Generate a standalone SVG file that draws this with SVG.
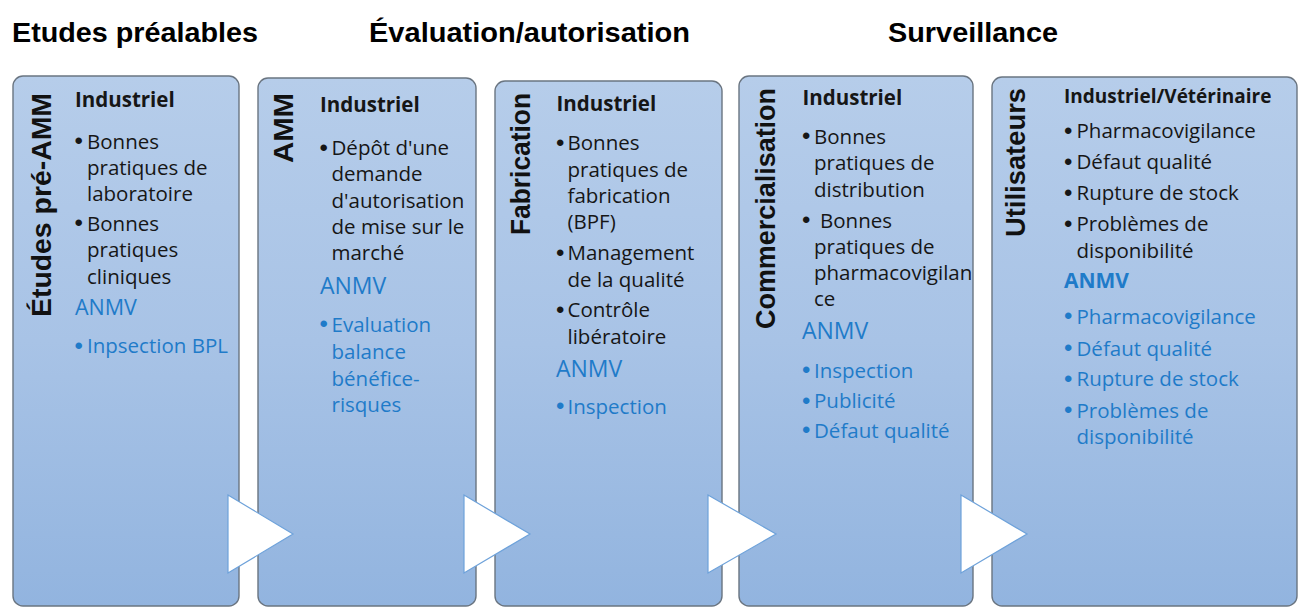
<svg xmlns="http://www.w3.org/2000/svg" width="1301" height="608" viewBox="0 0 1301 608">
<defs>
<linearGradient id="boxfill" x1="0" y1="0" x2="0" y2="1">
<stop offset="0" stop-color="#b6cdea"/>
<stop offset="0.5" stop-color="#a8c3e6"/>
<stop offset="1" stop-color="#92b4df"/>
</linearGradient>
</defs>
<style>
.box{fill:url(#boxfill);stroke:#6a7581;stroke-width:1.4}
.t{font-family:"Open Sans","Noto Sans",sans-serif;font-size:20.5px;fill:#161616}
.b{font-weight:bold}
.blue{fill:#1f7bc9}
.anmv{font-size:23px}
.bu{font-family:"Liberation Sans",Arial,sans-serif;font-size:24px}
.title{font-family:"Liberation Sans",Arial,sans-serif;font-weight:bold;font-size:27px;fill:#111}
.hdr{font-family:"Liberation Sans",Arial,sans-serif;font-weight:bold;font-size:28.5px;fill:#000}
.arrow{fill:#fff;stroke:#6ea2da;stroke-width:1.2}
</style>
<rect width="1301" height="608" fill="#fff"/>
<g id="headers">
<text class="hdr" x="12" y="42" textLength="246" lengthAdjust="spacingAndGlyphs">Etudes préalables</text>
<text class="hdr" x="369" y="42" textLength="321" lengthAdjust="spacingAndGlyphs">Évaluation/autorisation</text>
<text class="hdr" x="888" y="42" textLength="170" lengthAdjust="spacingAndGlyphs">Surveillance</text>
</g>
<g id="node-etudes-pre-amm">
<rect class="box" x="13" y="76" width="226" height="530" rx="10"/>
<text class="title" transform="translate(50.5,317) rotate(-90)" textLength="224" lengthAdjust="spacingAndGlyphs">Études pré-AMM</text>
<text class="t b" x="75" y="106.5">Industriel</text>
<text class="t"><tspan class="bu" x="74.5" y="149">•</tspan><tspan x="87" y="148.5">Bonnes</tspan><tspan x="87" y="174.5">pratiques de</tspan><tspan x="87" y="201">laboratoire</tspan></text>
<text class="t"><tspan class="bu" x="74.5" y="231">•</tspan><tspan x="87" y="230.5">Bonnes</tspan><tspan x="87" y="257">pratiques</tspan><tspan x="87" y="283.5">cliniques</tspan></text>
<text class="t blue" x="75" y="315" style="font-size:21.5px">ANMV</text>
<text class="t blue"><tspan class="bu" x="74.5" y="353.5">•</tspan><tspan x="87" y="353">Inpsection BPL</tspan></text>
</g>
<g id="node-amm">
<rect class="box" x="258" y="78" width="218" height="528" rx="10"/>
<text class="title" transform="translate(293,163) rotate(-90)" textLength="70" lengthAdjust="spacingAndGlyphs">AMM</text>
<text class="t b" x="320" y="112">Industriel</text>
<text class="t"><tspan class="bu" x="319.5" y="155.5">•</tspan><tspan x="331.5" y="155">Dépôt d'une</tspan><tspan x="331.5" y="181">demande</tspan><tspan x="331.5" y="207.5">d'autorisation</tspan><tspan x="331.5" y="233.5">de mise sur le</tspan><tspan x="331.5" y="259.5">marché</tspan></text>
<text class="t blue anmv" x="320" y="293.5">ANMV</text>
<text class="t blue"><tspan class="bu" x="319.5" y="332">•</tspan><tspan x="331.5" y="331.5">Evaluation</tspan><tspan x="331.5" y="358.5">balance</tspan><tspan x="331.5" y="385.5">bénéfice-</tspan><tspan x="331.5" y="411.5">risques</tspan></text>
</g>
<g id="node-fabrication">
<rect class="box" x="495" y="81" width="227" height="525" rx="10"/>
<text class="title" transform="translate(530,235) rotate(-90)" textLength="142" lengthAdjust="spacingAndGlyphs">Fabrication</text>
<text class="t b" x="556.5" y="111">Industriel</text>
<text class="t"><tspan class="bu" x="556" y="150.5">•</tspan><tspan x="567.5" y="150">Bonnes</tspan><tspan x="567.5" y="176.5">pratiques de</tspan><tspan x="567.5" y="203">fabrication</tspan><tspan x="567.5" y="229">(BPF)</tspan></text>
<text class="t"><tspan class="bu" x="556" y="260.5">•</tspan><tspan x="567.5" y="260">Management</tspan><tspan x="567.5" y="286.5">de la qualité</tspan></text>
<text class="t"><tspan class="bu" x="556" y="317.5">•</tspan><tspan x="567.5" y="317">Contrôle</tspan><tspan x="567.5" y="343.5">libératoire</tspan></text>
<text class="t blue anmv" x="556" y="376.5">ANMV</text>
<text class="t blue"><tspan class="bu" x="556" y="414">•</tspan><tspan x="567.5" y="413.5">Inspection</tspan></text>
</g>
<g id="node-commercialisation">
<rect class="box" x="739" y="76" width="234" height="530" rx="10"/>
<text class="title" transform="translate(775,329) rotate(-90)" textLength="241" lengthAdjust="spacingAndGlyphs">Commercialisation</text>
<text class="t b" x="802.5" y="105">Industriel</text>
<text class="t"><tspan class="bu" x="802" y="144">•</tspan><tspan x="814" y="143.5">Bonnes</tspan><tspan x="814" y="170">pratiques de</tspan><tspan x="814" y="196.5">distribution</tspan></text>
<text class="t"><tspan class="bu" x="802" y="228">•</tspan><tspan x="820" y="227.5">Bonnes</tspan><tspan x="814" y="253.5">pratiques de</tspan><tspan x="814" y="280">pharmacovigilan</tspan><tspan x="814" y="306">ce</tspan></text>
<text class="t blue anmv" x="802" y="339">ANMV</text>
<text class="t blue"><tspan class="bu" x="802" y="378">•</tspan><tspan x="814" y="377.5">Inspection</tspan></text>
<text class="t blue"><tspan class="bu" x="802" y="408.5">•</tspan><tspan x="814" y="408">Publicité</tspan></text>
<text class="t blue"><tspan class="bu" x="802" y="438">•</tspan><tspan x="814" y="437.5">Défaut qualité</tspan></text>
</g>
<g id="node-utilisateurs">
<rect class="box" x="992" y="77" width="305" height="529" rx="10"/>
<text class="title" transform="translate(1025,237) rotate(-90)" textLength="149" lengthAdjust="spacingAndGlyphs">Utilisateurs</text>
<text class="t b" x="1064" y="103" style="font-size:19px">Industriel/Vétérinaire</text>
<text class="t"><tspan class="bu" x="1064" y="138.5">•</tspan><tspan x="1076.5" y="138">Pharmacovigilance</tspan></text>
<text class="t"><tspan class="bu" x="1064" y="169.5">•</tspan><tspan x="1076.5" y="169">Défaut qualité</tspan></text>
<text class="t"><tspan class="bu" x="1064" y="200.5">•</tspan><tspan x="1076.5" y="200">Rupture de stock</tspan></text>
<text class="t"><tspan class="bu" x="1064" y="231.5">•</tspan><tspan x="1076.5" y="231">Problèmes de</tspan><tspan x="1076.5" y="257.5">disponibilité</tspan></text>
<text class="t b blue" x="1064" y="288" style="font-size:21px">ANMV</text>
<text class="t blue"><tspan class="bu" x="1064" y="324">•</tspan><tspan x="1076.5" y="323.5">Pharmacovigilance</tspan></text>
<text class="t blue"><tspan class="bu" x="1064" y="356">•</tspan><tspan x="1076.5" y="355.5">Défaut qualité</tspan></text>
<text class="t blue"><tspan class="bu" x="1064" y="386.5">•</tspan><tspan x="1076.5" y="386">Rupture de stock</tspan></text>
<text class="t blue"><tspan class="bu" x="1064" y="418">•</tspan><tspan x="1076.5" y="417.5">Problèmes de</tspan><tspan x="1076.5" y="443.5">disponibilité</tspan></text>
</g>
<g id="connectors">
<polygon class="arrow" points="228,495 293,534 228,573"/>
<polygon class="arrow" points="464,495 530,534 464,573"/>
<polygon class="arrow" points="708,495 776,534 708,573"/>
<polygon class="arrow" points="961,495 1027,534 961,573"/>
</g>
</svg>
